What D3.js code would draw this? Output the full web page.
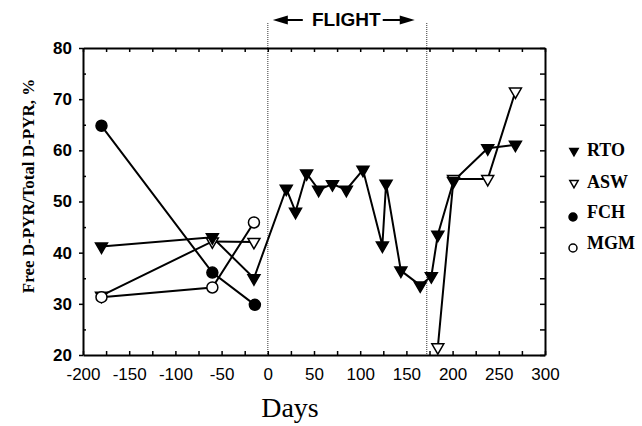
<!DOCTYPE html>
<html>
<head>
<meta charset="utf-8">
<script src="https://cdn.jsdelivr.net/npm/d3@7"></script>
<style>
  body { margin: 0; background: #fff; }
  svg { display: block; }
</style>
</head>
<body>
<svg id="chart"></svg>
<script>
// data (days relative to launch, % free D-PYR)
const rtoDays = [-180, -60, -15, 20, 30, 42, 55, 70, 85, 103, 124, 128, 144, 165, 177, 184, 201, 238, 268];
const rtoVals = [41.2, 43, 35, 52.5, 48, 55.5, 52.3, 53.4, 52.3, 56.2, 41.4, 53.5, 36.5, 33.6, 35.4, 43.5, 54, 60.4, 61.1];
const aswPreDays = [-180, -60, -15];
const aswPreVals = [31.6, 42.2, 42.1];
const aswPostDays = [184, 201, 238, 268];
const aswPostVals = [21.5, 54.4, 54.4, 71.5];
const fchDays = [-180, -60, -14];
const fchVals = [64.8, 36.1, 29.8];
const mgmDays = [-180, -60, -15];
const mgmVals = [31.3, 33.2, 45.9];
const flightStart = 0;
const flightEnd = 172;
const legendNames = ["RTO", "ASW", "FCH", "MGM"];
const xTickVals = d3.range(-200, 301, 25);
const yTickVals = [20, 30, 40, 50, 60, 70, 80];

const width = 642, height = 426;
const svg = d3.select("#chart").attr("width", width).attr("height", height);

const x = d3.scaleLinear().domain([-200, 300]).range([83, 545]);
const y = d3.scaleLinear().domain([20, 80]).range([355, 48]);

const sans = "'Liberation Sans', Arial, sans-serif";
const serif = "'Liberation Serif', 'Times New Roman', serif";

// flight period boundaries (dotted)
svg.selectAll("line.flight")
  .data([flightStart, flightEnd])
  .enter().append("line")
  .attr("x1", d => x(d)).attr("x2", d => x(d))
  .attr("y1", 23).attr("y2", y(20))
  .attr("stroke", "#555").attr("stroke-width", 1.2)
  .attr("stroke-dasharray", "1,1");

// axes
const gBottom = svg.append("g")
  .attr("transform", `translate(0,${y(20)})`)
  .call(d3.axisBottom(x).tickValues(xTickVals)
    .tickFormat(d => d % 50 === 0 ? d : "")
    .tickSizeInner(-4).tickSizeOuter(0).tickPadding(13));
const gTop = svg.append("g")
  .attr("transform", `translate(0,${y(80)})`)
  .call(d3.axisTop(x).tickValues(xTickVals).tickFormat("")
    .tickSizeInner(-4).tickSizeOuter(0));
const gLeft = svg.append("g")
  .attr("transform", `translate(${x(-200)},0)`)
  .call(d3.axisLeft(y).tickValues(yTickVals).tickSizeInner(4).tickSizeOuter(0).tickPadding(7));
const gLeftMinor = svg.append("g")
  .attr("transform", `translate(${x(-200)},0)`)
  .call(d3.axisLeft(y).tickValues(d3.range(25, 80, 10)).tickFormat("").tickSizeInner(-3).tickSizeOuter(0));
const gRight = svg.append("g")
  .attr("transform", `translate(${x(300)},0)`)
  .call(d3.axisRight(y).tickValues(d3.range(20, 81, 5)).tickFormat("").tickSizeInner(-5).tickSizeOuter(0));

[gBottom, gTop, gLeft, gLeftMinor, gRight].forEach(g => {
  g.selectAll("path.domain").attr("stroke", "#000").attr("stroke-width", 2);
  g.selectAll(".tick line").attr("stroke", "#000").attr("stroke-width", 1.5);
});
gLeftMinor.select("path.domain").remove();
gBottom.selectAll("text").attr("font-family", sans).attr("font-size", 17).attr("fill", "#000");
gLeft.selectAll("text").attr("font-family", sans).attr("font-size", 17)
  .attr("font-weight", "bold").attr("fill", "#000");

// series lines
const line = d3.line().x(d => x(d[0])).y(d => y(d[1]));
const zip = (a, b) => a.map((d, i) => [d, b[i]]);

// RTO last so its filled markers sit on top
const series = [
  { pts: zip(aswPreDays, aswPreVals), shape: "tri", fill: "#fff" },
  { pts: zip(aswPostDays, aswPostVals), shape: "tri", fill: "#fff" },
  { pts: zip(fchDays, fchVals), shape: "circ", fill: "#000" },
  { pts: zip(mgmDays, mgmVals), shape: "circ", fill: "#fff" },
  { pts: zip(rtoDays, rtoVals), shape: "tri", fill: "#000" }
];

series.forEach(s => {
  svg.append("path")
    .attr("d", line(s.pts))
    .attr("fill", "none").attr("stroke", "#000").attr("stroke-width", 2);
});

const triSym = d3.symbol().type(d3.symbolTriangle);
const circSym = d3.symbol().type(d3.symbolCircle);

series.forEach(s => {
  svg.selectAll(null)
    .data(s.pts)
    .enter().append("path")
    .attr("d", s.shape === "tri" ? triSym.size(62)() : circSym.size(95)())
    .attr("transform", d => `translate(${x(d[0])},${y(d[1])})` + (s.shape === "tri" ? " rotate(180)" : ""))
    .attr("fill", s.fill).attr("stroke", "#000").attr("stroke-width", 1.5);
});

// flight label with arrows
const fy = 20;
const flight = svg.append("g");
flight.append("path")
  .attr("d", `M${x(flightStart) + 5},${fy} L${x(flightStart) + 20},${fy - 4.5} L${x(flightStart) + 20},${fy + 4.5} Z`)
  .attr("fill", "#000");
flight.append("line")
  .attr("x1", x(flightStart) + 18).attr("x2", x(flightStart) + 35)
  .attr("y1", fy).attr("y2", fy).attr("stroke", "#000").attr("stroke-width", 2);
flight.append("path")
  .attr("d", `M${x(flightEnd) - 12},${fy} L${x(flightEnd) - 27},${fy - 4.5} L${x(flightEnd) - 27},${fy + 4.5} Z`)
  .attr("fill", "#000");
flight.append("line")
  .attr("x1", x(flightEnd) - 44).attr("x2", x(flightEnd) - 25)
  .attr("y1", fy).attr("y2", fy).attr("stroke", "#000").attr("stroke-width", 2);
flight.append("text")
  .attr("x", (x(flightStart) + x(flightEnd)) / 2 - 1).attr("y", 26)
  .attr("text-anchor", "middle")
  .attr("font-family", sans).attr("font-weight", "bold").attr("font-size", 19)
  .text("FLIGHT");

// axis titles
svg.append("text")
  .attr("x", 290).attr("y", 417)
  .attr("text-anchor", "middle")
  .attr("font-family", serif).attr("font-size", 28)
  .text("Days");
svg.append("text")
  .attr("transform", "translate(34,186) rotate(-90)")
  .attr("text-anchor", "middle")
  .attr("font-family", serif).attr("font-weight", "bold").attr("font-size", 17)
  .text("Free D-PYR/Total D-PYR, %");

// legend
const legendY = [150, 182, 212, 243];
const legendShape = ["tri", "tri", "circ", "circ"];
const legendFill = ["#000", "#fff", "#000", "#fff"];
const leg = svg.selectAll("g.legend")
  .data(legendNames)
  .enter().append("g")
  .attr("transform", (d, i) => `translate(0,${legendY[i]})`);
leg.append("path")
  .attr("d", (d, i) => legendShape[i] === "tri" ? triSym.size(30)() : circSym.size(50)())
  .attr("transform", (d, i) => legendShape[i] === "tri" ? "translate(574,1) rotate(180)" : "translate(573,5)")
  .attr("fill", (d, i) => legendFill[i]).attr("stroke", "#000").attr("stroke-width", 1.5);
leg.append("text")
  .attr("x", 587).attr("y", 6)
  .attr("font-family", serif).attr("font-weight", "bold").attr("font-size", 18)
  .text(d => d);
</script>
</body>
</html>
